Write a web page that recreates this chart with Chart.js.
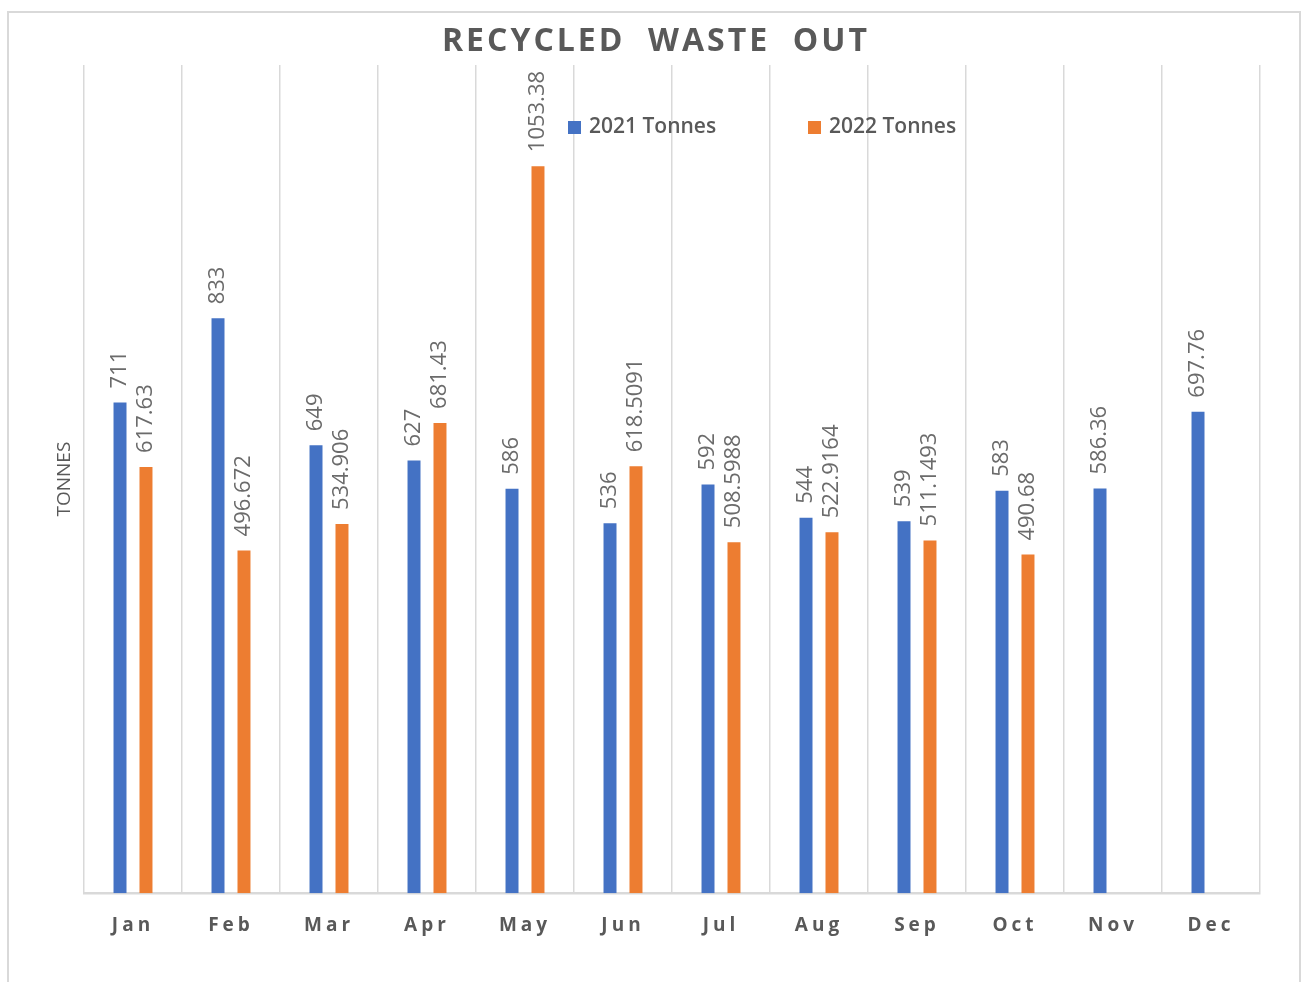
<!DOCTYPE html>
<html>
<head>
<meta charset="utf-8">
<title>Recycled Waste Out</title>
<script src="https://cdn.jsdelivr.net/npm/chart.js@4.4.1/dist/chart.umd.min.js"></script>
<style>
  html, body { margin: 0; padding: 0; background: #fff; }
  #marco {
    position: absolute; left: 7px; top: 11px; width: 1290px; height: 980px;
    border: 2px solid #d9d9d9; box-sizing: content-box;
  }
  #grafico { position: absolute; left: 0; top: 0; }
</style>
</head>
<body>
<div id="marco"></div>
<canvas id="grafico" width="1301" height="982"></canvas>
<script>
const meses = ['Jan', 'Feb', 'Mar', 'Apr', 'May', 'Jun', 'Jul', 'Aug', 'Sep', 'Oct', 'Nov', 'Dec']
const tonnes2021 = [711, 833, 649, 627, 586, 536, 592, 544, 539, 583, 586.36, 697.76]
const tonnes2022 = [617.63, 496.672, 534.906, 681.43, 1053.38, 618.5091, 508.5988, 522.9164, 511.1493, 490.68, null, null]
const tituloGrafico = 'RECYCLED  WASTE  OUT'

const GRIS = '#595959'
const FUENTE = '"Open Sans", "Noto Sans", sans-serif'

// titulo, leyenda y etiquetas de valor dibujados a mano
const decoracion = {
	id: 'decoracion',
	beforeDraw(chart) {
		chart.ctx.letterSpacing = '0px'
	},
	afterDatasetsDraw(chart) {
		const ctx = chart.ctx
		ctx.save()
		ctx.letterSpacing = '0px'
		ctx.font = '22px ' + FUENTE
		ctx.fillStyle = '#6b6b6b'
		ctx.textAlign = 'left'
		ctx.textBaseline = 'middle'
		chart.data.datasets.forEach((ds, i) => {
			chart.getDatasetMeta(i).data.forEach((barra, j) => {
				const valor = ds.data[j]
				if (valor == null) return
				ctx.save()
				ctx.translate(barra.x, barra.y - 14)
				ctx.rotate(-Math.PI / 2)
				ctx.fillText(String(valor), 0, 0)
				ctx.restore()
			})
		})
		ctx.restore()
		// los meses del eje x van espaciados
		ctx.letterSpacing = '4px'
	},
	afterDraw(chart) {
		const ctx = chart.ctx
		ctx.save()
		ctx.letterSpacing = '3px'
		ctx.font = 'bold 32px ' + FUENTE
		ctx.fillStyle = GRIS
		ctx.textAlign = 'center'
		ctx.textBaseline = 'middle'
		ctx.fillText(tituloGrafico, 656, 42)

		ctx.letterSpacing = '0px'
		ctx.font = '600 21px ' + FUENTE
		ctx.textAlign = 'left'
		let x = 568
		chart.data.datasets.forEach(ds => {
			ctx.fillStyle = ds.backgroundColor
			ctx.fillRect(x, 121, 13, 13)
			ctx.fillStyle = GRIS
			ctx.fillText(ds.label, x + 21, 127)
			x += 240
		})
		ctx.restore()
	}
}

const mostrarGrafico = () => {
	const container = document.getElementById('grafico').getContext('2d')
	new Chart(container, {
		type: 'bar',
		data: {
			labels: meses,
			datasets: [{
				label: '2021 Tonnes',
				data: tonnes2021,
				backgroundColor: '#4472C4'
			}, {
				label: '2022 Tonnes',
				data: tonnes2022,
				backgroundColor: '#ED7D31'
			}]
		},
		options: {
			responsive: false,
			animation: false,
			categoryPercentage: 0.53,
			barPercentage: 0.5,
			layout: { padding: { left: 53.2, right: 41, top: 65, bottom: 24 } },
			plugins: {
				legend: { display: false },
				title: { display: false },
				tooltip: { enabled: false }
			},
			scales: {
				x: {
					grid: { color: '#d9d9d9', lineWidth: 1.5, drawTicks: false },
					border: { color: '#d9d9d9', width: 2.5 },
					ticks: {
						z: 1,
						padding: 21,
						color: GRIS,
						font: { family: FUENTE, size: 19, weight: 'bold' }
					}
				},
				y: {
					min: 0,
					max: 1200,
					grid: { display: false, drawTicks: false },
					border: { display: false },
					ticks: { display: false },
					title: {
						display: true,
						text: 'TONNES',
						color: GRIS,
						padding: { top: 0, bottom: 8 },
						font: { family: FUENTE, size: 19 }
					}
				}
			}
		},
		plugins: [decoracion]
	})
}

mostrarGrafico()
</script>
</body>
</html>
